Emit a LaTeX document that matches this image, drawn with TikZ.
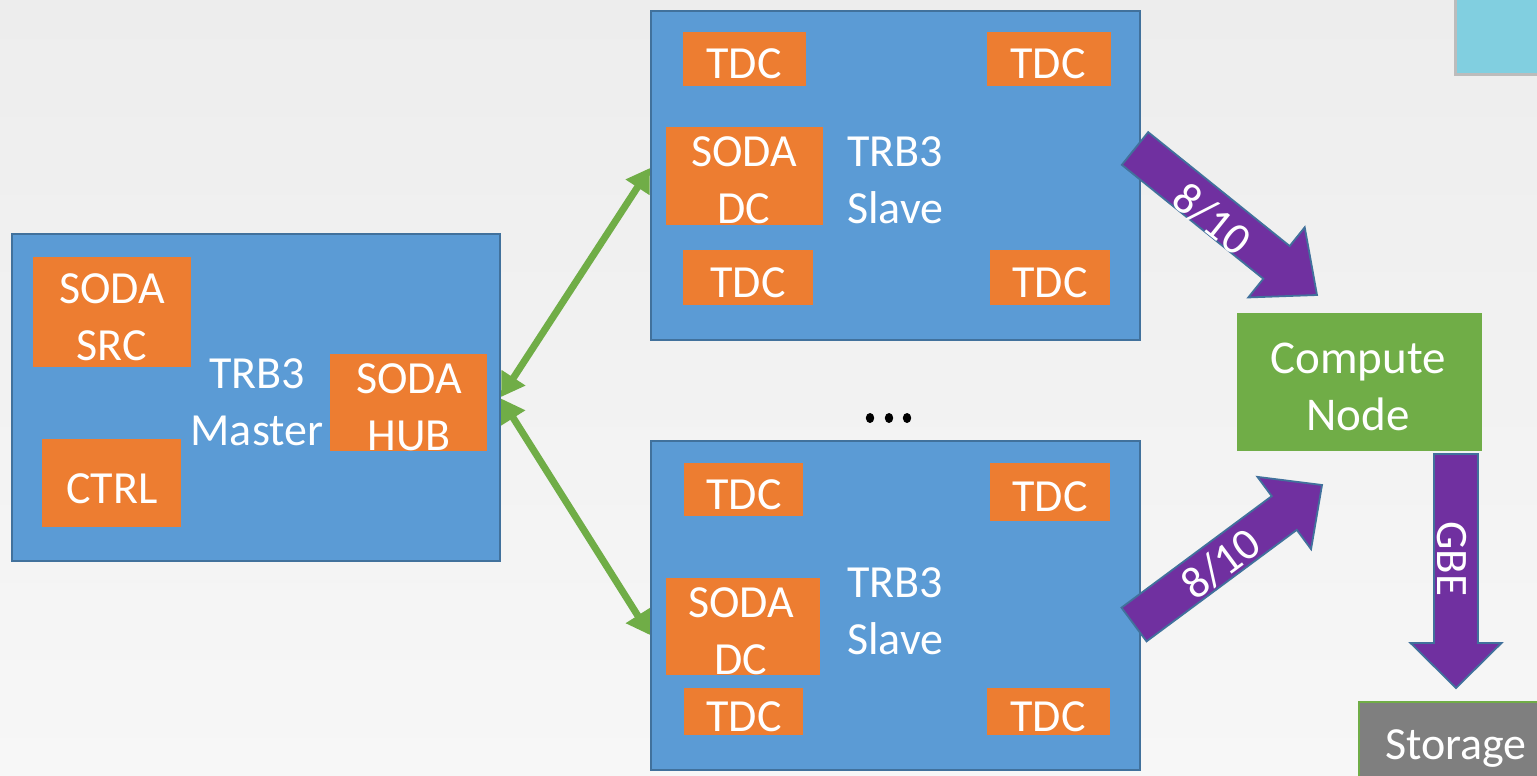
\documentclass[tikz,border=0pt]{standalone}
\usepackage{fontspec}
\setmainfont{Carlito}
\usetikzlibrary{arrows.meta,calc,fit}

\definecolor{bgtop}{HTML}{EDEDED}
\definecolor{bgbot}{HTML}{F7F7F7}
\definecolor{trbblue}{HTML}{5B9BD5}
\definecolor{trbedge}{HTML}{41719C}
\definecolor{chiporange}{HTML}{ED7D31}
\definecolor{nodegreen}{HTML}{70AD47}
\definecolor{linkpurple}{HTML}{7030A0}
\definecolor{storegray}{HTML}{7F7F7F}
\definecolor{tabteal}{HTML}{81CFE0}

% two stacked lines whose baseline is that of the first line
\newcommand\twolines[2]{\begin{tabular}[t]{@{}c@{}}#1\\#2\end{tabular}}
\newcommand\twolinesl[2]{\begin{tabular}[t]{@{}l@{}}#1\\#2\end{tabular}}

% wide block arrow: name, tail, tip, shaft half width, head half width, head length
\newcommand\blockarrow[6]{%
  \coordinate (#1-hb) at ($(#3)!#6!(#2)$);
  \draw[fatlink] ($(#2)!#4!90:(#3)$) -- ($(#1-hb)!#4!90:(#3)$)
    -- ($(#1-hb)!#5!90:(#3)$) -- (#3) -- ($(#1-hb)!#5!-90:(#3)$)
    -- ($(#1-hb)!#4!-90:(#3)$) -- ($(#2)!#4!-90:(#3)$) -- cycle;
}

\begin{document}
\begin{tikzpicture}[x=1pt,y=-1pt,
  board/.style={fill=trbblue,draw=trbedge,line width=2pt,inner sep=0pt},
  chip/.style={fill=chiporange,inner sep=0pt},
  compbox/.style={fill=nodegreen,inner sep=0pt},
  storebox/.style={fill=storegray,draw=nodegreen,line width=2pt,inner sep=0pt},
  tabbox/.style={fill=tabteal,inner sep=0pt},
  lbl/.style={text=white,inner sep=0pt,anchor=base,font=\fontsize{46}{57}\selectfont},
  lbll/.style={lbl,anchor=base west},
  arrlbl/.style={text=white,inner sep=0pt,font=\fontsize{45}{54}\selectfont},
  link/.style={draw=nodegreen,line width=7pt,{Triangle[length=23pt,width=27pt]}-{Triangle[length=23pt,width=27pt]}},
  fatlink/.style={fill=linkpurple,draw=trbedge,line width=1.8pt,line join=miter},
]
\useasboundingbox (0,0) rectangle (1537,776);
\clip (0,0) rectangle (1537,776);
\shade[top color=bgtop,bottom color=bgbot] (0,0) rectangle (1537,776);

% corner tab with its shadow
\fill[black!45,opacity=0.5] (1454,-4) rectangle (1541,76);
\node[tabbox,fit={(1457,-4) (1541,73)}] (tab) {};

% ---------- TRB3 master ----------
\node[board,fit={(12,234) (500,561)}] (master) {};
\node[chip,fit={(33,257) (191,367)}] (src) {};
\node[chip,fit={(42,439) (181,527)}] (ctrl) {};
\node[chip,fit={(330,354) (487,451)}] (hub) {};
\node[lbl] (srct) at (112,303) {\twolines{SODA}{SRC}};
\node[lbl] (ctrlt) at (112,503) {CTRL};
\node[lbl] (hubt) at (409,393) {\twolines{SODA}{HUB}};
\node[lbl] (mastert) at (257,388) {\twolines{TRB3}{Master}};

% ---------- TRB3 slave (top) ----------
\node[board,fit={(651,11) (1140,340)}] (slaveA) {};
\node[chip,fit={(683,32) (806,86)}] (tdcA1) {};
\node[chip,fit={(987,32) (1111,86)}] (tdcA2) {};
\node[chip,fit={(683,250) (813,305)}] (tdcA3) {};
\node[chip,fit={(990,250) (1110,305)}] (tdcA4) {};
\node[chip,fit={(666,127) (823,225)}] (dcA) {};
\node[lbl] (tdcA1t) at (744,78) {TDC};
\node[lbl] (tdcA2t) at (1048,78) {TDC};
\node[lbl] (tdcA3t) at (748,297) {TDC};
\node[lbl] (tdcA4t) at (1050,297) {TDC};
\node[lbl] (dcAt) at (744,166) {\twolines{SODA}{DC}};
\node[lbll] (slaveAt) at (847,166) {\twolinesl{TRB3}{Slave}};

% ---------- TRB3 slave (bottom) ----------
\node[board,fit={(651,441) (1140,770)}] (slaveB) {};
\node[chip,fit={(684,463) (803,516)}] (tdcB1) {};
\node[chip,fit={(990,463) (1110,521)}] (tdcB2) {};
\node[chip,fit={(684,688) (803,735)}] (tdcB3) {};
\node[chip,fit={(987,688) (1110,735)}] (tdcB4) {};
\node[chip,fit={(666,578) (820,675)}] (dcB) {};
\node[lbl] (tdcB1t) at (744,509) {TDC};
\node[lbl] (tdcB2t) at (1050,511) {TDC};
\node[lbl] (tdcB3t) at (744,731) {TDC};
\node[lbl] (tdcB4t) at (1048,731) {TDC};
\node[lbl] (dcBt) at (741,617) {\twolines{SODA}{DC}};
\node[lbll] (slaveBt) at (847,597) {\twolinesl{TRB3}{Slave}};

% more slaves in between
\foreach \dx in {870,889,907}
  \fill[black] (\dx,418) ellipse [x radius=4.2, y radius=5];

% ---------- compute and storage ----------
\node[compbox,fit={(1237,313) (1482,451)}] (comp) {};
\node[lbl,font=\fontsize{47}{57}\selectfont] (compt) at (1358,373) {\twolines{Compute}{Node}};
\node[storebox,fit={(1359,702) (1545,790)}] (store) {};
\node[lbl] (storet) at (1456,759) {Storage};

% ---------- SODA links ----------
\draw[link] ([yshift=0.5pt]master.east) -- ([yshift=7.5pt]slaveA.west);
\draw[link] ([yshift=-1pt]master.east) -- ([yshift=-29.5pt]slaveB.west);

% ---------- data links ----------
\coordinate (aTail) at (1135,148.5);
\coordinate (aTip) at (1317,295);
\blockarrow{a}{aTail}{aTip}{21pt}{45pt}{52pt}
\node[arrlbl,rotate=-38.8] (aLbl) at (1212,219) {8/10};

\coordinate (bTail) at (1134,624.5);
\coordinate (bTip) at (1322,485);
\blockarrow{b}{bTail}{bTip}{21pt}{45pt}{47pt}
\node[arrlbl,rotate=36.6] (bLbl) at (1221,564) {8/10};

\coordinate (cTail) at (1456,454);
\coordinate (cTip) at (1456,688);
\blockarrow{c}{cTail}{cTip}{22pt}{45.5pt}{45pt}
\node[arrlbl,rotate=-90] (cLbl) at (1452,559) {GBE};
\end{tikzpicture}
\end{document}
